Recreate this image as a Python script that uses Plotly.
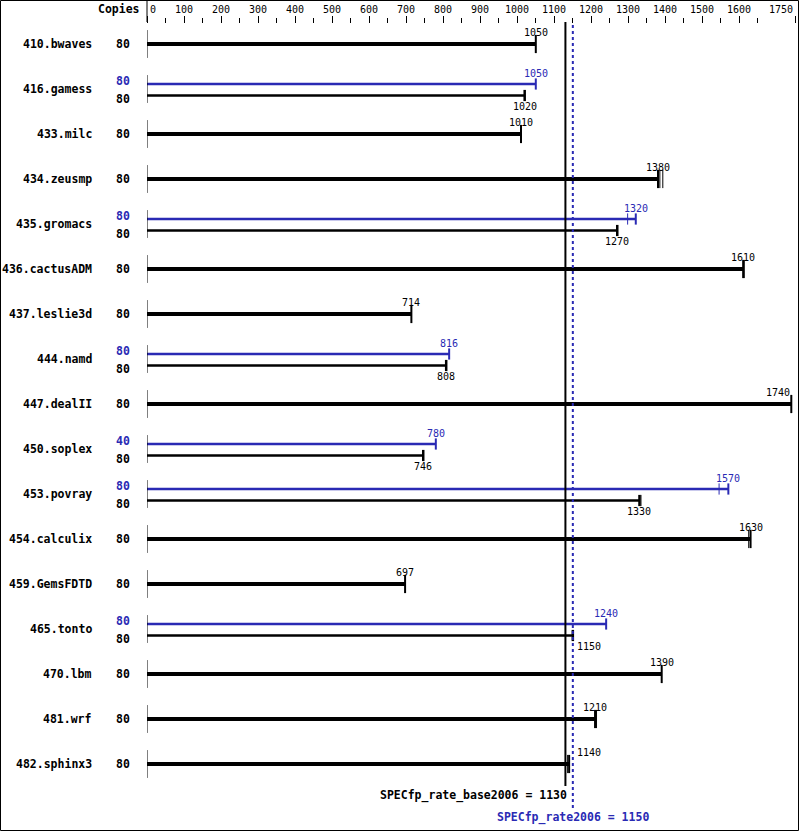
import plotly.graph_objects as go

# ---------------- data ----------------
benchmarks = ["410.bwaves", "416.gamess", "433.milc", "434.zeusmp", "435.gromacs",
              "436.cactusADM", "437.leslie3d", "444.namd", "447.dealII", "450.soplex",
              "453.povray", "454.calculix", "459.GemsFDTD", "465.tonto", "470.lbm",
              "481.wrf", "482.sphinx3"]
base_copies = [80] * 17
peak_copies = [None, 80, None, None, 80, None, None, 80, None, 40, 80, None, None, 80, None, None, None]
base_values = [1050, 1020, 1010, 1380, 1270, 1610, 714, 808, 1740, 746, 1330, 1630, 697, 1150, 1390, 1210, 1140]
peak_values = [None, 1050, None, None, 1320, None, None, 816, None, 780, 1570, None, None, 1240, None, None, None]
# extra run ticks (benchmark index, which result, value)
run_marks = [(3, "base", 1385), (3, "base", 1393), (4, "peak", 1298), (5, "base", 1613),
             (10, "peak", 1545), (10, "base", 1334), (11, "base", 1625), (15, "base", 1214),
             (16, "base", 1136)]
base_mean = 1130
peak_mean = 1150
tick_major = list(range(0, 1800, 100))[:-1] + [1750]
tick_minor = list(range(50, 1700, 50))[::2]

# ---------------- style ----------------
BLUE = "#2a2ab4"
BLACK = "#000000"
MONO = "DejaVu Sans Mono"
W, H = 799, 831
ML, MR, MT, MB = 147, 4, 24, 0
PW, PH = W - ML - MR, H - MT - MB
ROW_PX = 45.0
FIRST_ROW_PX = 44.0
y_top = (MT - FIRST_ROW_PX) / ROW_PX
y_bot = y_top + PH / ROW_PX
PEAK_OFF = -5 / ROW_PX
BASE_OFF = 6.5 / ROW_PX
X_MAX = 1750


def px_to_paper_y(py):
    return (H - MB - py) / PH


def px_to_paper_x(px):
    return (px - ML) / PW


rows = list(range(len(benchmarks)))
single = [i for i in rows if peak_values[i] is None]
pair = [i for i in rows if peak_values[i] is not None]

fig = go.Figure()

# thick single bars
fig.add_trace(go.Bar(orientation="h", y=single, x=[base_values[i] for i in single],
                     width=4 / ROW_PX, marker=dict(color=BLACK, line=dict(width=0)),
                     hoverinfo="skip", showlegend=False))
# peak thin bars
fig.add_trace(go.Bar(orientation="h", y=[i + PEAK_OFF for i in pair], x=[peak_values[i] for i in pair],
                     width=2.5 / ROW_PX, marker=dict(color=BLUE, line=dict(width=0)),
                     hoverinfo="skip", showlegend=False))
# base thin bars
fig.add_trace(go.Bar(orientation="h", y=[i + BASE_OFF for i in pair], x=[base_values[i] for i in pair],
                     width=2.5 / ROW_PX, marker=dict(color=BLACK, line=dict(width=0)),
                     hoverinfo="skip", showlegend=False))


def cap_trace(xs, ys, size, color, lw):
    return go.Scatter(x=xs, y=ys, mode="markers", cliponaxis=False,
                      marker=dict(symbol="line-ns-open", size=size, color=color,
                                  line=dict(color=color, width=lw)),
                      hoverinfo="skip", showlegend=False)


# end caps
fig.add_trace(cap_trace([base_values[i] for i in single], single, 13, BLACK, 2))
fig.add_trace(cap_trace([peak_values[i] for i in pair], [i + PEAK_OFF for i in pair], 8, BLUE, 2))
fig.add_trace(cap_trace([base_values[i] for i in pair], [i + BASE_OFF for i in pair], 8, BLACK, 2.5))

# run ticks
for idx, kind, v in run_marks:
    if peak_values[idx] is None:
        yy, sz, col = idx, 13, BLACK
    elif kind == "peak":
        yy, sz, col = idx + PEAK_OFF, 8, BLUE
    else:
        yy, sz, col = idx + BASE_OFF, 8, BLACK
    fig.add_trace(cap_trace([v], [yy], sz, col, 1))

shapes = []
annotations = []

# per-row axis segments
for i in rows:
    shapes.append(dict(type="line", xref="x", yref="y", x0=0, x1=0, y0=i - 0.31, y1=i + 0.31,
                       line=dict(color=BLACK, width=1)))

# top-left separator
shapes.append(dict(type="line", xref="paper", yref="paper", x0=0, x1=0,
                   y0=px_to_paper_y(22), y1=px_to_paper_y(0), line=dict(color=BLACK, width=1)))

# mean lines
shapes.append(dict(type="line", xref="x", yref="paper", x0=base_mean, x1=base_mean,
                   y0=px_to_paper_y(786), y1=px_to_paper_y(22), line=dict(color=BLACK, width=2)))
shapes.append(dict(type="line", xref="x", yref="paper", x0=peak_mean, x1=peak_mean,
                   y0=px_to_paper_y(808), y1=px_to_paper_y(22), line=dict(color=BLUE, width=2, dash="dot")))

# frame
shapes.append(dict(type="rect", xref="paper", yref="paper", x0=px_to_paper_x(0.5), x1=px_to_paper_x(798.5),
                   y0=px_to_paper_y(830.5), y1=px_to_paper_y(0.5), line=dict(color=BLACK, width=1)))


def value_label(v, yy, col, yshift):
    if abs(v - (base_mean + peak_mean) / 2) < 45:
        x, anchor, xs = peak_mean, "left", 2
    elif v > X_MAX - 35:
        x, anchor, xs = v, "right", 1
    else:
        x, anchor, xs = v, "center", 0
    annotations.append(dict(x=x, y=yy, xref="x", yref="y", text=str(v), showarrow=False,
                            xanchor=anchor, yanchor="middle", xshift=xs, yshift=yshift,
                            font=dict(family=MONO, size=10, color=col)))


name_x = px_to_paper_x(94)
copies_x = px_to_paper_x(132)
for i in rows:
    annotations.append(dict(x=name_x, y=i, xref="paper", yref="y", text=benchmarks[i], showarrow=False,
                            xanchor="right", yanchor="middle",
                            font=dict(family=MONO, size=11.5, color=BLACK, weight="bold")))
    if peak_values[i] is None:
        annotations.append(dict(x=copies_x, y=i, xref="paper", yref="y", text=str(base_copies[i]),
                                showarrow=False, xanchor="right", yanchor="middle",
                                font=dict(family=MONO, size=11.5, color=BLACK, weight="bold")))
        value_label(base_values[i], i, BLACK, 12)
    else:
        annotations.append(dict(x=copies_x, y=i, xref="paper", yref="y", text=str(peak_copies[i]),
                                showarrow=False, xanchor="right", yanchor="middle", yshift=8,
                                font=dict(family=MONO, size=11.5, color=BLUE, weight="bold")))
        annotations.append(dict(x=copies_x, y=i, xref="paper", yref="y", text=str(base_copies[i]),
                                showarrow=False, xanchor="right", yanchor="middle", yshift=-10,
                                font=dict(family=MONO, size=11.5, color=BLACK, weight="bold")))
        value_label(peak_values[i], i + PEAK_OFF, BLUE, 11)
        value_label(base_values[i], i + BASE_OFF, BLACK, -11)

# header
annotations.append(dict(x=px_to_paper_x(142), y=px_to_paper_y(9), xref="paper", yref="paper", text="Copies",
                        showarrow=False, xanchor="right", yanchor="middle",
                        font=dict(family=MONO, size=11.5, color=BLACK, weight="bold")))
for t in tick_major:
    anchor = "left" if t == tick_major[0] else ("right" if t == tick_major[-1] else "center")
    annotations.append(dict(x=t, y=px_to_paper_y(9), xref="x", yref="paper", text=str(t), showarrow=False,
                            xanchor=anchor, yanchor="middle", xshift=1 if anchor == "left" else 0,
                            font=dict(family=MONO, size=10, color=BLACK)))

# mean labels
annotations.append(dict(x=base_mean, y=px_to_paper_y(795), xref="x", yref="paper",
                        text=f"SPECfp_rate_base2006 = {base_mean}", showarrow=False,
                        xanchor="right", yanchor="middle", xshift=4,
                        font=dict(family=MONO, size=11.5, color=BLACK, weight="bold")))
annotations.append(dict(x=peak_mean, y=px_to_paper_y(817), xref="x", yref="paper",
                        text=f"SPECfp_rate2006 = {peak_mean}", showarrow=False,
                        xanchor="center", yanchor="middle",
                        font=dict(family=MONO, size=11.5, color=BLUE, weight="bold")))

fig.update_layout(
    width=W, height=H, margin=dict(l=ML, r=MR, t=MT, b=MB, pad=0),
    paper_bgcolor="white", plot_bgcolor="white",
    barmode="overlay", showlegend=False,
    shapes=shapes, annotations=annotations,
    xaxis=dict(range=[0, X_MAX], side="top", showgrid=False, zeroline=False, showline=False,
               ticks="outside", ticklen=7, tickwidth=1, tickcolor=BLACK,
               tickmode="array", tickvals=tick_major, showticklabels=False, fixedrange=True,
               minor=dict(ticks="outside", ticklen=5, tickwidth=1, tickcolor=BLACK,
                          tickmode="array", tickvals=tick_minor)),
    yaxis=dict(range=[y_bot, y_top], showgrid=False, zeroline=False, showline=False,
               showticklabels=False, ticks="", fixedrange=True),
)

fig.write_html("out.html", config={"displayModeBar": False},
               post_script="document.body.style.margin='0px';document.body.style.overflow='hidden';")
